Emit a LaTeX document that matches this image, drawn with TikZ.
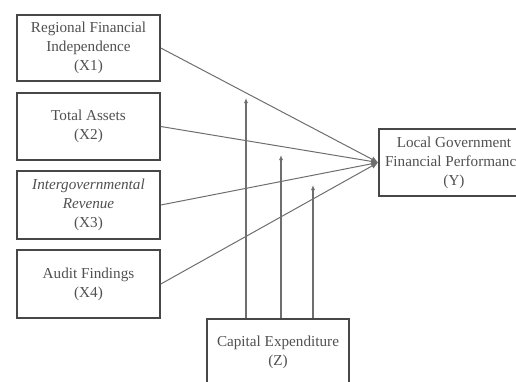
\documentclass[tikz,border=0pt]{standalone}
\usepackage{fontspec}
\setmainfont{Liberation Serif}
\usetikzlibrary{arrows.meta}
\definecolor{boxc}{HTML}{474747}
\definecolor{linec}{HTML}{6E6E6E}
\definecolor{textc}{HTML}{505050}
\begin{document}
\begin{tikzpicture}[x=1pt,y=-1pt,
  var/.style={draw=boxc, line width=1.6pt, inner sep=0pt, align=center,
    text=textc, font=\fontsize{15.2}{19}\selectfont},
  link/.style={draw=linec, line width=1pt, -{Latex[length=7pt,width=6pt]}},
  modr/.style={draw=linec, line width=1.4pt, -{Latex[length=5pt,width=4pt]}}]
\useasboundingbox (0,0) rectangle (516,381);
\clip (0,0) rectangle (516,381);
\node[var, minimum width=143pt, minimum height=66pt] (x1) at (88.5,48)
  {Regional Financial\\Independence\\(X1)};
\node[var, minimum width=143pt, minimum height=67pt] (x2) at (88.5,126.5)
  {Total Assets\\(X2)};
\node[var, minimum width=143pt, minimum height=68pt] (x3) at (88.5,205)
  {\itshape Intergovernmental\\\itshape Revenue\\(X3)};
\node[var, minimum width=143pt, minimum height=68pt] (x4) at (88.5,284)
  {Audit Findings\\(X4)};
\node[var, minimum width=150pt, minimum height=67pt] (y) at (454,162.5)
  {Local Government\\Financial Performance\\(Y)};
\node[var, minimum width=142pt, minimum height=80pt, anchor=north] (z) at (278,318)
  {};
\node[text=textc, font=\fontsize{15.2}{19}\selectfont, align=center] (zt) at (278,352)
  {Capital Expenditure\\(Z)};
\coordinate (m1) at (246,98);
\coordinate (m2) at (281,155);
\coordinate (m3) at (313,185);
\draw[link] (x1.east) -- (y.west);
\draw[link] (x2.east) -- (y.west);
\draw[link] (x3.east) -- (y.west);
\draw[link] (x4.east) -- (y.west);
\draw[modr] (z.north -| m1) -- (m1);
\draw[modr] (z.north -| m2) -- (m2);
\draw[modr] (z.north -| m3) -- (m3);
\end{tikzpicture}
\end{document}
